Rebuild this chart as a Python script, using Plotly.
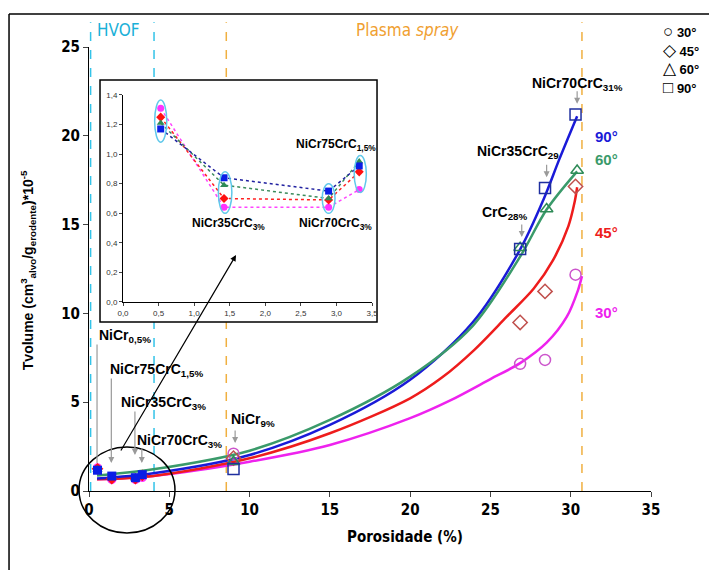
import plotly.graph_objects as go

# ---------------- data ----------------
angles = ["30°", "45°", "60°", "90°"]
colors_line = {"30°": "#ee22ee", "45°": "#ee1c1c", "60°": "#3a9a6a", "90°": "#1a1ad8"}
colors_open = {"30°": "#cc55cc", "45°": "#c0504d", "60°": "#2e8b57", "90°": "#1f2f9f"}
colors_fill = {"30°": "#ff33ff", "45°": "#ff1010", "60°": "#2e8b57", "90°": "#0a1ee6"}
symbols = {"30°": "circle", "45°": "diamond", "60°": "triangle-up", "90°": "square"}

# HVOF coatings (porosity %, Tvolume x1e-5)
hvof_labels = ["NiCr<sub>0,5%</sub>", "NiCr35CrC<sub>3%</sub>", "NiCr70CrC<sub>3%</sub>", "NiCr75CrC<sub>1,5%</sub>"]
hvof_x = [0.53, 1.42, 2.89, 3.32]
hvof_30 = [1.31, 0.64, 0.64, 0.76]
hvof_45 = [1.25, 0.70, 0.69, 0.88]
hvof_60 = [1.21, 0.79, 0.70, 0.95]
hvof_90 = [1.17, 0.84, 0.75, 0.92]

# Plasma spray coatings
plasma_labels = ["NiCr<sub>9%</sub>", "CrC<sub>28%</sub>", "NiCr35CrC<sub>29</sub>", "NiCr70CrC<sub>31%</sub>"]
plasma_x = [9.0, 26.85, 28.4, 30.3]
plasma_30 = [2.10, 7.16, 7.38, 12.18]
plasma_45 = [1.85, 9.49, 11.24, 17.15]
plasma_60 = [1.65, 13.7, 15.88, 18.05]
plasma_90 = [1.24, 13.62, 17.06, 21.2]
plasma_x_60 = [9.0, 26.85, 28.5, 30.4]

# trend curves
curve_x_90 = [0.5, 4, 10, 15, 20, 23.9, 26.85, 28.3, 29.3, 30.4]
curve_y_90 = [0.70, 1.0, 2.03, 3.72, 6.26, 9.5, 13.6, 16.4, 18.7, 21.1]
curve_x_60 = [0.5, 4, 10, 15, 20, 23.9, 26.85, 28.5, 30.4]
curve_y_60 = [0.87, 1.22, 2.27, 4.0, 6.44, 9.3, 13.2, 15.85, 18.0]
curve_x_45 = [0.5, 4, 10, 15, 20, 22, 24, 26, 27.7, 28.9, 29.85, 30.25, 30.4]
curve_y_45 = [0.66, 0.85, 1.84, 3.25, 5.22, 6.4, 7.95, 9.8, 11.4, 13.0, 14.9, 16.3, 17.1]
curve_x_30 = [0.5, 4, 10, 15, 20, 22.5, 25, 26.85, 28.5, 29.75, 30.45, 30.7]
curve_y_30 = [0.66, 0.85, 1.65, 2.59, 4.1, 5.1, 6.3, 7.2, 8.35, 9.8, 11.3, 12.1]

hvof_bounds = [0.1, 4.05]
plasma_bounds = [8.55, 30.7]

x_ticks = [0, 5, 10, 15, 20, 25, 30, 35]
y_ticks = [0, 5, 10, 15, 20, 25]
inset_x_ticks = [0, 0.5, 1.0, 1.5, 2.0, 2.5, 3.0, 3.5]
inset_x_text = ["0,0", "0,5", "1,0", "1,5", "2,0", "2,5", "3,0", "3,5"]
inset_y_ticks = [0, 0.2, 0.4, 0.6, 0.8, 1.0, 1.2, 1.4]
inset_y_text = ["0,0", "0,2", "0,4", "0,6", "0,8", "1,0", "1,2", "1,4"]

hvof_vals = {"30°": hvof_30, "45°": hvof_45, "60°": hvof_60, "90°": hvof_90}
plasma_vals = {"30°": plasma_30, "45°": plasma_45, "60°": plasma_60, "90°": plasma_90}
plasma_xs = {"30°": plasma_x, "45°": plasma_x, "60°": plasma_x_60, "90°": plasma_x}
curves = {"30°": (curve_x_30, curve_y_30), "45°": (curve_x_45, curve_y_45),
          "60°": (curve_x_60, curve_y_60), "90°": (curve_x_90, curve_y_90)}

NARROW = "Liberation Sans Narrow, Arial Narrow, DejaVu Sans Condensed, sans-serif"
ARIAL = "Liberation Sans, Arial, sans-serif"

fig = go.Figure()

# curves
for a in ["30°", "45°", "90°", "60°"]:
    cx, cy = curves[a]
    fig.add_trace(go.Scatter(x=cx, y=cy, mode="lines", line=dict(color=colors_line[a], width=2.5, shape="spline", smoothing=0.9),
                             hoverinfo="skip"))

# plasma open markers
for a in angles:
    fig.add_trace(go.Scatter(x=plasma_xs[a], y=plasma_vals[a], mode="markers",
                             marker=dict(symbol=symbols[a] + "-open", size=11, color=colors_open[a], line=dict(width=1.5))))

# hvof filled markers in main chart
for a in angles:
    fig.add_trace(go.Scatter(x=hvof_x, y=hvof_vals[a], mode="markers",
                             marker=dict(symbol=symbols[a], size=9, color=colors_fill[a])))

# inset traces
inset_line = {"30°": "#ff44ff", "45°": "#ff2020", "60°": "#3a8a5a", "90°": "#2020a0"}
for a in angles:
    fig.add_trace(go.Scatter(x=hvof_x, y=hvof_vals[a], mode="lines+markers", xaxis="x2", yaxis="y2",
                             line=dict(color=inset_line[a], width=1.5, dash="dot"),
                             marker=dict(symbol=symbols[a], size=7, color=colors_fill[a])))

shapes = []
for b in hvof_bounds:
    shapes.append(dict(type="line", xref="x", yref="paper", x0=b, x1=b, y0=0, y1=1.056,
                       line=dict(color="#33c3e8", width=1.5, dash="dash"), layer="below"))
for b in plasma_bounds:
    shapes.append(dict(type="line", xref="x", yref="paper", x0=b, x1=b, y0=0, y1=1.056,
                       line=dict(color="#f0b040", width=1.5, dash="dash"), layer="below"))
# inset box
shapes.append(dict(type="rect", xref="paper", yref="paper", x0=0.0196, x1=0.5125, y0=0.3806, y1=0.9257,
                   line=dict(color="black", width=1.5), fillcolor="white", layer="below"))
# outer frame
shapes.append(dict(type="line", xref="paper", yref="paper", x0=-0.1423, x1=-0.1423, y0=-0.2, y1=1.0743,
                   line=dict(color="black", width=1.5)))
shapes.append(dict(type="line", xref="paper", yref="paper", x0=-0.1423, x1=1.2, y0=1.0743, y1=1.0743,
                   line=dict(color="black", width=1.5)))
# black ellipse around HVOF points
shapes.append(dict(type="circle", xref="paper", yref="paper", x0=-0.0178, x1=0.153, y0=-0.0946, y1=0.0991,
                   line=dict(color="black", width=1.5)))
# inset ellipses
ell = [(0.445, 0.615, 1.08, 1.366), (1.34, 1.53, 0.60, 0.88), (2.80, 2.98, 0.60, 0.80), (3.25, 3.42, 0.74, 0.99)]
for (x0, x1, y0, y1) in ell:
    shapes.append(dict(type="circle", xref="x2", yref="y2", x0=x0, x1=x1, y0=y0, y1=y1,
                       line=dict(color="#5fc8ea", width=1.5)))

ann = []
def txt(x, y, t, size=13, color="black", xref="x", yref="y", xanchor="left", font=ARIAL, weight="bold", **kw):
    ann.append(dict(x=x, y=y, xref=xref, yref=yref, text=t, showarrow=False, xanchor=xanchor, yanchor="middle",
                    font=dict(family=font, size=size, color=color, weight=weight), **kw))

def arrow(x, y, ax, ay, color="#9a9a9a", head=2, xref="x", yref="y", width=1.2):
    ann.append(dict(x=x, y=y, xref=xref, yref=yref, text="", showarrow=True, ax=ax, ay=ay,
                    arrowhead=head, arrowsize=1, arrowwidth=width, arrowcolor=color))

# main-chart HVOF labels
main_hvof_order = [0, 3, 1, 2]
hvof_text_pos = [(0.5, 8.74), (1.18, 6.82), (1.87, 4.96), (2.86, 2.8)]
hvof_arrow = [(1.58, -120), (1.58, -86), (2.03, -45), (1.58, -16)]
for k, idx in enumerate(main_hvof_order):
    tx, ty = hvof_text_pos[k]
    txt(tx, ty, hvof_labels[idx], size=14)
    tipy, ay = hvof_arrow[k]
    arrow(hvof_x[k] - 0.03, tipy, 0, ay, head=0 if k == 0 else 2)

# plasma labels
plasma_text_pos = [(8.72, 4.0), (24.35, 15.67), (24.03, 19.1), (27.46, 22.9)]
for k in range(4):
    tx, ty = plasma_text_pos[k]
    txt(tx, ty, plasma_labels[k], size=14)
    top = max(plasma_30[k], plasma_45[k], plasma_60[k], plasma_90[k])
    arrow(plasma_x[k] + 0.1, top + 0.6, 0, -14)

# angle labels at curve ends
ang_pos = {"90°": 19.95, "60°": 18.66, "45°": 14.54, "30°": 10.03}
for a, yy in ang_pos.items():
    txt(31.4, yy, a, size=15, color=colors_line[a])

# inset labels
inset_lab_pos = [(0.6, 1.41), (1.48, 0.53), (2.98, 0.53), (3.0, 1.06)]
for k in range(4):
    tx, ty = inset_lab_pos[k]
    txt(tx, ty, hvof_labels[k], size=12, xref="x2", yref="y2", xanchor="center")

# region labels
txt(0.052, 1.038, "HVOF", size=17, color="#1ab0d8", xref="paper", yref="paper", xanchor="center", font=NARROW, weight="normal")
txt(0.5676, 1.038, "Plasma <i>spray</i>", size=17, color="#f0a030", xref="paper", yref="paper", xanchor="center", font=NARROW, weight="normal")

# legend
leg_sym = ["○", "◇", "△", "□"]
leg_y = [1.034, 0.993, 0.9505, 0.9077]
for s, a, yy in zip(leg_sym, angles, leg_y):
    txt(1.018, yy, '<span style="font-size:17px;font-weight:normal">' + s + '</span> ' + a, size=13,
        xref="paper", yref="paper")

# axis titles
txt(-0.108, 0.498, "Tvolume (cm<sup>3</sup><sub>alvo</sub>/g<sub>erodente</sub>)*10<sup>-5</sup>", size=14,
    xref="paper", yref="paper", xanchor="center", textangle=-90)
txt(0.562, -0.1036, "Porosidade (%)", size=15, xref="paper", yref="paper", xanchor="center", font=NARROW)

# big arrow from ellipse to inset
ann.append(dict(x=0.2616, y=0.5315, xref="paper", yref="paper", text="", showarrow=True, ax=-116, ay=197,
                arrowhead=2, arrowsize=1, arrowwidth=1.2, arrowcolor="black"))

tickfont = dict(family=NARROW, size=15, color="black", weight="bold")
fig.update_layout(
    width=709, height=562,
    margin=dict(l=81, r=66, t=39, b=79),
    paper_bgcolor="white", plot_bgcolor="rgba(0,0,0,0)",
    showlegend=False,
    xaxis=dict(range=[0, 35], tickvals=x_ticks, ticks="outside", ticklen=5, showline=True, linecolor="black",
               linewidth=1, showgrid=False, zeroline=False, tickfont=tickfont),
    yaxis=dict(range=[0, 25], tickvals=y_ticks, ticks="outside", ticklen=5, showline=True, linecolor="black",
               linewidth=1, showgrid=False, zeroline=False, tickfont=tickfont),
    xaxis2=dict(domain=[0.0605, 0.5036], anchor="y2", range=[0, 3.5], tickvals=inset_x_ticks, ticktext=inset_x_text,
                ticks="outside", ticklen=3, showline=True, linecolor="black", linewidth=1, showgrid=False,
                zeroline=False, tickfont=dict(family=ARIAL, size=8, color="#333")),
    yaxis2=dict(domain=[0.4257, 0.892], anchor="x2", range=[0, 1.4], tickvals=inset_y_ticks, ticktext=inset_y_text,
                ticks="outside", ticklen=3, showline=True, linecolor="black", linewidth=1, showgrid=False,
                zeroline=False, tickfont=dict(family=ARIAL, size=8, color="#333")),
    shapes=shapes, annotations=ann,
)

fig.write_html("out.html")
